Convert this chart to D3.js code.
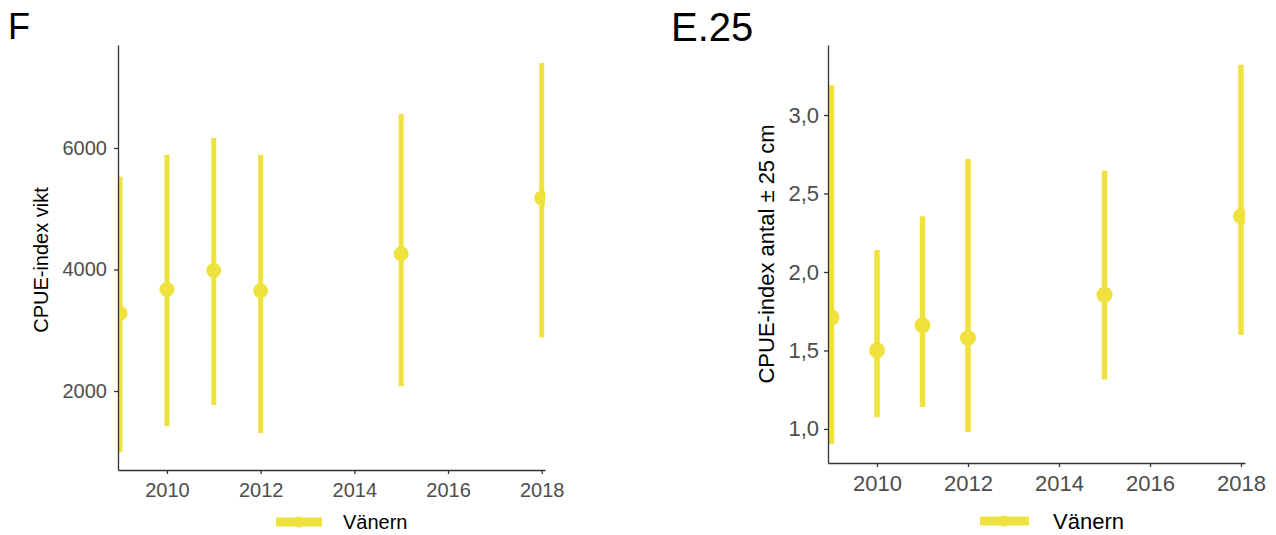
<!DOCTYPE html>
<html>
<head>
<meta charset="utf-8">
<script src="https://cdn.jsdelivr.net/npm/d3@7"></script>
<style>
  html, body { margin: 0; padding: 0; background: #fff; }
  svg { display: block; font-family: "Liberation Sans", Arial, sans-serif; }
</style>
</head>
<body>
<svg id="chart" width="1276" height="535"></svg>
<script>
// Survey years
const years = [2009, 2010, 2011, 2012, 2015, 2018];

// Panel F: CPUE index by weight (mean, lower, upper)
const vikt = [3280, 3670, 3985, 3650, 4260, 5175];
const viktLow = [995, 1420, 1770, 1310, 2080, 2880];
const viktHigh = [5525, 5885, 6165, 5885, 6560, 7400];

// Panel E.25: CPUE index by count, fish ± 25 cm
const antal = [1.71, 1.50, 1.66, 1.58, 1.855, 2.355];
const antalLow = [0.905, 1.075, 1.14, 0.98, 1.315, 1.60];
const antalHigh = [3.19, 2.14, 2.355, 2.72, 2.645, 3.32];

const xTicks = [2010, 2012, 2014, 2016, 2018];
const viktTicks = [2000, 4000, 6000];
const antalTicks = [1.0, 1.5, 2.0, 2.5, 3.0];

const seriesName = "Vänern";
const yellow = "#EFE23F";

const svg = d3.select("#chart");

const panels = [
  {
    id: "f", tag: "F", tagX: 8, tagY: 39, tagSize: 36,
    ytitle: "CPUE-index vikt",
    mean: vikt, low: viktLow, high: viktHigh, yTicks: viktTicks,
    yFmt: d3.format("d"),
    left: 118, right: 545, top: 45, bottom: 470,
    xDomain: [2008.955, 2018.07], yDomain: [700, 7695],
    titleX: 43, titleY: 260, font: 20, xPad: 9, yPad: 7,
    barW: 5, r: 7.5,
    legendX: 276, legendW: 46, legendY: 522, legendTextX: 343
  },
  {
    id: "e25", tag: "E.25", tagX: 671, tagY: 41, tagSize: 40,
    ytitle: "CPUE-index antal ± 25 cm",
    mean: antal, low: antalLow, high: antalHigh, yTicks: antalTicks,
    yFmt: d => d3.format(".1f")(d).replace(".", ","),
    left: 828, right: 1245, top: 45, bottom: 463,
    xDomain: [2008.923, 2018.088], yDomain: [0.783, 3.446],
    titleX: 768, titleY: 254, font: 22, xPad: 8, yPad: 5,
    barW: 5.5, r: 8,
    legendX: 980, legendW: 49, legendY: 521, legendTextX: 1053
  }
];

panels.forEach(p => {
  const x = d3.scaleLinear().domain(p.xDomain).range([p.left, p.right]);
  const y = d3.scaleLinear().domain(p.yDomain).range([p.bottom, p.top]);

  // panel tag
  svg.append("text")
    .attr("x", p.tagX).attr("y", p.tagY)
    .attr("font-size", p.tagSize).attr("fill", "#000")
    .text(p.tag);

  // clip region for the plotting area
  svg.append("clipPath").attr("id", "clip-" + p.id)
    .append("rect")
    .attr("x", p.left).attr("y", p.top)
    .attr("width", p.right - p.left).attr("height", p.bottom - p.top);

  const g = svg.append("g").attr("clip-path", `url(#clip-${p.id})`);

  const rows = years.map((yr, i) => ({ yr, m: p.mean[i], lo: p.low[i], hi: p.high[i] }));

  g.selectAll("line.range").data(rows).enter().append("line")
    .attr("class", "range")
    .attr("x1", d => x(d.yr)).attr("x2", d => x(d.yr))
    .attr("y1", d => y(d.lo)).attr("y2", d => y(d.hi))
    .attr("stroke", yellow).attr("stroke-width", p.barW);

  g.selectAll("circle.pt").data(rows).enter().append("circle")
    .attr("class", "pt")
    .attr("cx", d => x(d.yr)).attr("cy", d => y(d.m))
    .attr("r", p.r).attr("fill", yellow);

  // axes
  const xAxis = d3.axisBottom(x).tickValues(xTicks).tickFormat(d3.format("d"))
    .tickSizeOuter(0).tickSizeInner(4).tickPadding(p.xPad);
  const yAxis = d3.axisLeft(y).tickValues(p.yTicks).tickFormat(p.yFmt)
    .tickSizeOuter(0).tickSizeInner(4).tickPadding(p.yPad);

  const gx = svg.append("g").attr("transform", `translate(0,${p.bottom})`).call(xAxis);
  const gy = svg.append("g").attr("transform", `translate(${p.left},0)`).call(yAxis);

  [gx, gy].forEach(ax => {
    ax.select(".domain").attr("stroke", "#333").attr("stroke-width", 1.3);
    ax.selectAll(".tick line").attr("stroke", "#333").attr("stroke-width", 1.3);
    ax.selectAll(".tick text").attr("fill", "#4D4D4D").attr("font-size", p.font)
      .attr("font-family", "Liberation Sans, Arial, sans-serif");
  });

  // y-axis title
  svg.append("text")
    .attr("transform", `translate(${p.titleX},${p.titleY}) rotate(-90)`)
    .attr("text-anchor", "middle")
    .attr("dominant-baseline", "middle")
    .attr("font-size", p.font).attr("fill", "#000")
    .text(p.ytitle);

  // legend
  const lg = svg.append("g").attr("transform", `translate(${p.legendX},${p.legendY})`);
  lg.append("line").attr("x1", 0).attr("x2", p.legendW).attr("y1", 0).attr("y2", 0)
    .attr("stroke", yellow).attr("stroke-width", 9);
  lg.append("circle").attr("cx", p.legendW / 2).attr("cy", 0).attr("r", 5.5).attr("fill", yellow);
  lg.append("text").attr("x", p.legendTextX - p.legendX).attr("y", 0)
    .attr("dominant-baseline", "central")
    .attr("font-size", p.font).attr("fill", "#000")
    .text(seriesName);
});
</script>
</body>
</html>
